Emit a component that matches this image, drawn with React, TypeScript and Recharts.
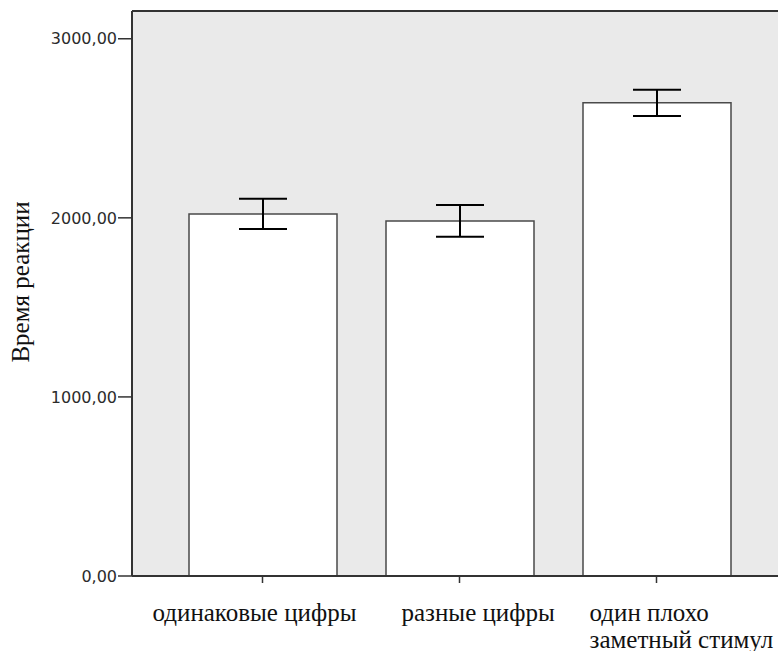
import { BarChart, Bar, XAxis, YAxis, ErrorBar, CartesianGrid, ReferenceLine, Label } from 'recharts'

// mean reaction time per condition, with half-width of the error bar
const categories = ['одинаковые цифры', 'разные цифры', 'один плохо заметный стимул']
const tickLines = [['одинаковые цифры'], ['разные цифры'], ['один плохо', 'заметный стимул']]
const meanTime = [2022, 1983, 2642]
const ciHalf = [84, 89, 73]
const yTicks = [0, 1000, 2000, 3000]
const yMax = 3155

// where each category label starts, relative to its tick
const labelShift = [-110, -58, -67]

const data = categories.map((name, i) => ({ name, time: meanTime[i], ci: ciHalf[i] }))

const serif = '"Liberation Serif", "Times New Roman", serif'
const serifStyle = { fontFamily: serif, fontSize: 25 }

function CategoryTick(props: any) {
  const { x, y, payload } = props
  const i = categories.indexOf(payload.value)
  const lx = x + labelShift[i]
  return (
    <text x={lx} y={y + 38} textAnchor='start' style={serifStyle} fill='#111'>
      {tickLines[i].map((line, k) => (
        <tspan key={k} x={lx} dy={k === 0 ? 0 : 27}>{line}</tspan>
      ))}
    </text>
  )
}

export default function App() {
  return (
    <div style={{ position: 'absolute', left: 0, top: 0, width: 778, height: 651, overflow: 'hidden', background: '#fff' }}>
      <BarChart width={800} height={651} data={data} margin={{ top: 11, right: 12, bottom: 0, left: 0 }}>
        <CartesianGrid fill='#eaeaea' stroke='none' horizontal={false} vertical={false} />
        <XAxis
          dataKey='name'
          height={75}
          interval={0}
          padding={{ left: 32, right: 33 }}
          axisLine={{ stroke: '#333', strokeWidth: 2 }}
          tickLine={{ stroke: '#333', strokeWidth: 1.5 }}
          tickSize={7}
          tickMargin={0}
          tick={<CategoryTick />}
        />
        <YAxis
          width={132}
          domain={[0, yMax]}
          ticks={yTicks}
          interval={0}
          tickFormatter={(v: number) => v.toFixed(2).replace('.', ',')}
          axisLine={{ stroke: '#333', strokeWidth: 2 }}
          tickLine={{ stroke: '#333', strokeWidth: 1.5 }}
          tickSize={14}
          tickMargin={1}
          tick={{ fill: '#2b2b2b', fontSize: 16, fontFamily: '"DejaVu Sans", sans-serif' }}
        >
          <Label
            content={() => (
              <text x={29} y={282} transform='rotate(-90 29 282)' textAnchor='middle' style={serifStyle} fill='#111'>
                Время реакции
              </text>
            )}
          />
        </YAxis>
        <ReferenceLine y={yMax} stroke='#333' strokeWidth={2} />
        <Bar dataKey='time' fill='#fff' stroke='#4a4a4a' strokeWidth={1.5} barSize={148} isAnimationActive={false}>
          <ErrorBar dataKey='ci' direction='y' width={24} stroke='#000' strokeWidth={2} isAnimationActive={false} />
        </Bar>
      </BarChart>
    </div>
  )
}
